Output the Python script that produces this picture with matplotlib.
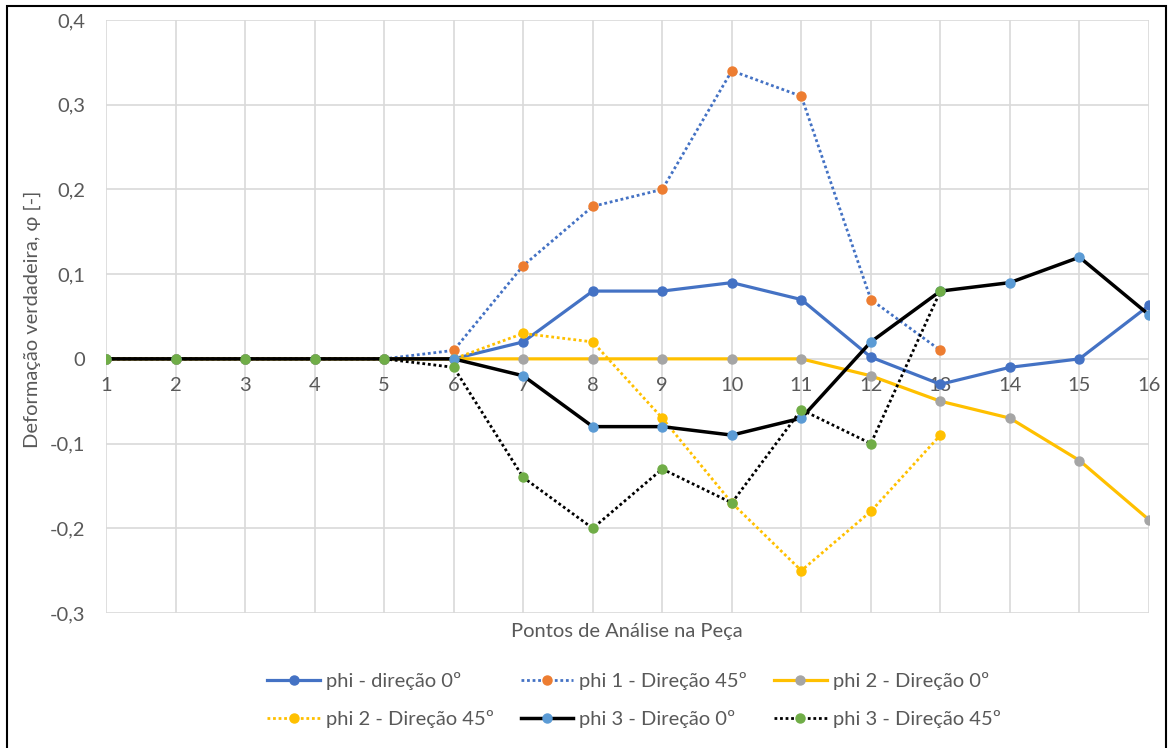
import matplotlib
matplotlib.use("Agg")
import matplotlib.pyplot as plt
from matplotlib.patches import Rectangle

plt.rcParams['font.family'] = ['Lato', 'DejaVu Sans']

# Analysis points along the part
points = list(range(1, 17))

# True strain values per series (None = no measurement)
phi_dir0 = [0, 0, 0, 0, 0, 0, 0.02, 0.08, 0.08, 0.09, 0.07, 0.002, -0.03, -0.01, 0.0, 0.063]
phi1_dir45 = [0, 0, 0, 0, 0, 0.01, 0.11, 0.18, 0.20, 0.34, 0.31, 0.07, 0.01, None, None, None]
phi2_dir0 = [0, 0, 0, 0, 0, 0, 0, 0, 0, 0, 0, -0.02, -0.05, -0.07, -0.12, -0.19]
phi2_dir45 = [0, 0, 0, 0, 0, 0, 0.03, 0.02, -0.07, -0.17, -0.25, -0.18, -0.09, None, None, None]
phi3_dir0 = [0, 0, 0, 0, 0, 0, -0.02, -0.08, -0.08, -0.09, -0.07, 0.02, 0.08, 0.09, 0.12, 0.052]
phi3_dir45 = [0, 0, 0, 0, 0, -0.01, -0.14, -0.20, -0.13, -0.17, -0.06, -0.10, 0.08, None, None, None]

series_labels = ["phi - direção 0º", "phi 1 - Direção 45º", "phi 2 - Direção 0º",
                 "phi 2 - Direção 45º", "phi 3 - Direção 0º", "phi 3 - Direção 45º"]

y_ticks = [-0.3, -0.2, -0.1, 0, 0.1, 0.2, 0.3, 0.4]
y_tick_labels = ["-0,3", "-0,2", "-0,1", "0", "0,1", "0,2", "0,3", "0,4"]

TEXT = "#595959"
GRID = "#D9D9D9"
DOT = (0, (1, 1))
FS = 14.5

W, H = 1168, 748
fig = plt.figure(figsize=(W / 100, H / 100), dpi=100)
ax = fig.add_axes([106 / W, 1 - 613 / H, (1149 - 106) / W, (613 - 20) / H])


def clean(vals):
    xs = [p for p, v in zip(points, vals) if v is not None]
    ys = [v for v in vals if v is not None]
    return xs, ys


styles = [
    (phi_dir0, dict(color="#4472C4", lw=2.3, ls="-", marker="o", ms=6.5,
                    mfc="#4472C4", mec="#4472C4")),
    (phi1_dir45, dict(color="#4472C4", lw=2.0, ls=DOT, marker="o", ms=6.5,
                      mfc="#ED7D31", mec="#ED7D31")),
    (phi2_dir0, dict(color="#FFC000", lw=2.3, ls="-", marker="o", ms=6.5,
                     mfc="#A5A5A5", mec="#A5A5A5")),
    (phi2_dir45, dict(color="#FFC000", lw=2.0, ls=DOT, marker="o", ms=6.5,
                      mfc="#FFC000", mec="#FFC000")),
    (phi3_dir0, dict(color="black", lw=2.5, ls="-", marker="o", ms=6.5,
                     mfc="#5B9BD5", mec="#5B9BD5")),
    (phi3_dir45, dict(color="black", lw=2.0, ls=DOT, marker="o", ms=6.5,
                      mfc="#70AD47", mec="#70AD47")),
]

handles = []
for (vals, st), lab in zip(styles, series_labels):
    xs, ys = clean(vals)
    h, = ax.plot(xs, ys, label=lab, dash_capstyle="butt", **st)
    handles.append(h)

ax.set_xlim(1, 16)
ax.set_ylim(-0.3, 0.4)
ax.set_xticks(points)
ax.set_xticklabels([str(p) for p in points])
ax.set_yticks(y_ticks)
ax.set_yticklabels(y_tick_labels)
ax.grid(True, color=GRID, lw=1.2)
ax.set_axisbelow(True)
for s in ax.spines.values():
    s.set_color("none")
ax.spines["bottom"].set_position(("data", 0))
ax.tick_params(axis="both", length=0, colors=TEXT, labelsize=FS)
ax.tick_params(axis="y", pad=15)
ax.tick_params(axis="x", pad=13)

fig.text(627 / W, 1 - 632 / H, "Pontos de Análise na Peça", ha="center", va="center",
         fontsize=FS, color=TEXT)
fig.text(32 / W, 1 - 319 / H, "Deformação verdadeira, φ [-]", ha="center", va="center",
         rotation=90, fontsize=FS, color=TEXT)

order = [0, 3, 1, 4, 2, 5]
leg = fig.legend([handles[i] for i in order], [series_labels[i] for i in order],
                 ncol=3, loc="center", bbox_to_anchor=(634 / W, 1 - 700 / H),
                 frameon=False, fontsize=FS, handlelength=2.6, handletextpad=0.3,
                 columnspacing=1.35, labelspacing=0.95, numpoints=1,
                 borderpad=0.0)
for t in leg.get_texts():
    t.set_color(TEXT)

fig.patches.append(Rectangle((7 / W, -0.05), (1166 - 7) / W, 1.05 - 6 / H,
                             transform=fig.transFigure, fill=False,
                             edgecolor="black", lw=1.5))

fig.savefig("out.png", dpi=100, facecolor="white")
